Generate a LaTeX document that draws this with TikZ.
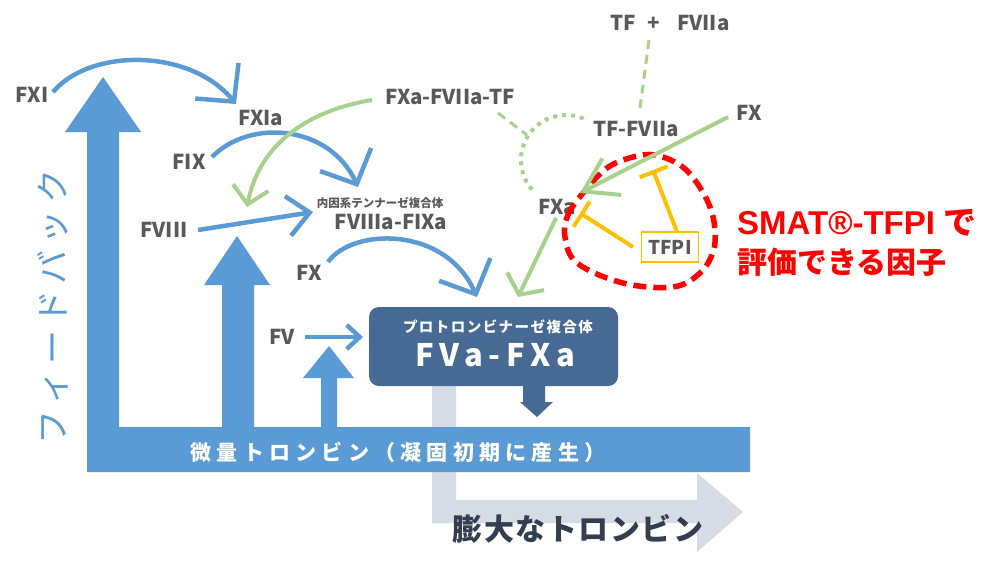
\documentclass[tikz,border=0pt]{standalone}
\usepackage{fontspec}
\setmainfont{Noto Sans CJK JP}
\newfontfamily\latinf{Liberation Sans}
\usetikzlibrary{arrows.meta}
\definecolor{fxblue}{HTML}{5B9BD5}
\definecolor{boxblue}{HTML}{466A93}
\definecolor{lgray}{HTML}{D6DCE5}
\definecolor{lblgray}{HTML}{595959}
\definecolor{fgreen}{HTML}{A9D18E}
\definecolor{tyellow}{HTML}{FFC000}
\definecolor{darktext}{HTML}{333F50}
\definecolor{redc}{HTML}{FF0000}
\tikzset{
  lbl/.style={inner sep=0pt, text=lblgray, font=\fontsize{20.5}{24}\selectfont\bfseries},
  blueln/.style={draw=fxblue, line width=4.5pt},
  greenln/.style={draw=fgreen, line width=4pt},
  bigtip/.style={-{Straight Barb[length=27pt,width=56pt]}},
  midtip/.style={-{Straight Barb[length=22pt,width=40pt]}},
  smalltip/.style={-{Straight Barb[length=13pt,width=24pt]}},
  inhib/.style={draw=tyellow, line width=4pt, -{Bar[width=30pt]}},
}
\begin{document}
\begin{tikzpicture}[x=1pt,y=-1pt]
\fill[white] (0,0) rectangle (1008,566);
\useasboundingbox (0,0) rectangle (1008,566);

% large thrombin (gray arrow, behind)
\fill[lgray] (432,386) -- (456,386) -- (456,500) -- (697,500) -- (697,473) -- (743,512) -- (697,552) -- (697,523) -- (432,523) -- cycle;
\node[inner sep=0pt, text=darktext, font=\fontsize{30}{34}\selectfont\bfseries\addfontfeatures{LetterSpace=5}] (big) at (578,529) {膨大なトロンビン};

% blue feedback L-arrow
\fill[fxblue] (87,472) -- (87,132) -- (65,132) -- (103,77) -- (141,132) -- (119,132) -- (119,427) -- (750,427) -- (750,472) -- cycle;
\fill[fxblue] (222,427) -- (222,285) -- (204,285) -- (237,236) -- (270,285) -- (254,285) -- (254,427) -- cycle;
\fill[fxblue] (321,427) -- (321,378) -- (303,378) -- (329,346) -- (354,378) -- (337,378) -- (337,427) -- cycle;
\node[inner sep=0pt, text=white, font=\fontsize{21}{24}\selectfont\bfseries\addfontfeatures{LetterSpace=25}] (micro) at (398,452) {微量トロンビン（凝固初期に産生）};
\node[rotate=90, inner sep=0pt, text=fxblue, font=\fontsize{34}{38}\selectfont\addfontfeatures{LetterSpace=18}] (fb) at (53,307) {フィードバック};

% prothrombinase box
\node[fill=boxblue, rounded corners=10pt, minimum width=249pt, minimum height=79pt, inner sep=0pt] (box) at (493.5,346.5) {};
\node[inner sep=0pt, text=white, font=\fontsize{14.5}{16}\selectfont\bfseries\addfontfeatures{LetterSpace=10}] (boxsub) at (498,327) {プロトロンビナーゼ複合体};
\node[inner sep=0pt, text=white, font=\fontsize{31}{34}\selectfont\bfseries\addfontfeatures{LetterSpace=19}] (boxmain) at (495,355) {FVa-FXa};
\fill[boxblue] (523,386) -- (545,386) -- (545,402) -- (553,402) -- (537,417) -- (520,402) -- (523,402) -- cycle;

% labels
\node[lbl] (fxi) at (32,95) {FXI};
\node[lbl] (fxia) at (261,118) {FXIa};
\node[lbl] (fix) at (189,162) {FIX};
\node[lbl] (fviii) at (164,230) {FVIII};
\node[lbl] (fxl) at (309,273) {FX};
\node[lbl] (fv) at (282,337) {FV};
\node[inner sep=0pt, text=lblgray, font=\fontsize{11.5}{13}\selectfont\bfseries] (tensub) at (380,203) {内因系テンナーゼ複合体};
\node[lbl] (ten) at (391,222) {FVIIIa-FIXa};
\node[lbl] (fxaviiatf) at (450,97) {FXa-FVIIa-TF};
\node[lbl] (tfplus) at (670,23) {TF\hspace{12pt}+\hspace{17pt}FVIIa};
\node[lbl] (tfviia) at (636,129) {TF-FVIIa};
\node[lbl] (fxr) at (749,113) {FX};
\node[lbl] (fxa) at (557,207) {FXa};
\node[draw=tyellow, line width=1.3pt, minimum width=57pt, minimum height=30pt, inner sep=0pt, text=lblgray, font=\fontsize{19}{22}\selectfont\bfseries] (tfpi) at (670,247) {TFPI};

% coordinates for connector ends
\coordinate (fxiS) at (53,92);
\coordinate (fxiaT) at (236,104);
\coordinate (fixS) at (212,157);
\coordinate (tenT) at (358,187);
\coordinate (fviiiS) at (198,230);
\coordinate (fviiiT) at (313,212);
\coordinate (fxlS) at (328,262);
\coordinate (boxT1) at (477,297);
\coordinate (fvS) at (305,337);
\coordinate (fvT) at (363,337);
\coordinate (gcS) at (372,100);
\coordinate (gcT) at (247,207);
\coordinate (fxrS) at (728,117);
\coordinate (fxaT) at (580,193);
\coordinate (fxaS) at (556,218);
\coordinate (boxT2) at (518,297);
\coordinate (tfS) at (649,40);
\coordinate (tfT) at (640,108);
\coordinate (exS) at (498,113);
\coordinate (exT) at (527,135);
\coordinate (t1S) at (677,232);
\coordinate (t1T) at (653,170);
\coordinate (t2S) at (633,247);
\coordinate (t2T) at (580,213);

% blue connectors
\draw[blueln, bigtip] (fxiS) .. controls (90,48) and (190,48) .. (fxiaT);
\draw[blueln, bigtip] (fixS) .. controls (250,118) and (330,125) .. (tenT);
\draw[blueln, midtip] (fviiiS) -- (fviiiT);
\draw[blueln, bigtip] (fxlS) .. controls (352,228) and (445,225) .. (boxT1);
\draw[blueln, smalltip] (fvS) -- (fvT);

% green connectors
\draw[greenln, -{Straight Barb[length=17pt,width=36pt]}] (gcS) .. controls (300,112) and (258,150) .. (gcT);
\draw[greenln, -{Straight Barb[length=15pt,width=41pt]}] (fxaS) -- (boxT2);
\draw[greenln, dash pattern=on 9pt off 6pt, line width=3pt] (tfS) -- (tfT);
\draw[greenln, dash pattern=on 9pt off 6pt, line width=3pt] (exS) -- (exT);
\draw[greenln, dash pattern=on 4pt off 5pt] ([shift={(-67:45)}]566,160) arc[start angle=-67, end angle=-221, radius=45];

% red loop
\draw[redc, line width=5.5pt, dash pattern=on 13pt off 7pt] plot[smooth cycle, tension=0.6] coordinates {(565,237) (568,215) (583,193) (607,168) (633,157) (655,155) (680,165) (697,183) (710,207) (715,230) (713,252) (700,273) (673,287) (623,283) (577,263)};
\draw[greenln, -{Straight Barb[length=32pt,width=41pt]}] (fxrS) -- (fxaT);

% TFPI inhibition
\draw[inhib] (t1S) -- (t1T);
\draw[inhib] (t2S) -- (t2T);

% red text
\node[anchor=west, inner sep=0pt, text=redc, font=\fontsize{33}{36}\selectfont\bfseries] (smat1) at (737,223) {{\latinf SMAT®-TFPI}\hspace{8pt}で};
\node[anchor=west, inner sep=0pt, text=redc, font=\fontsize{30}{34}\selectfont\bfseries] (smat2) at (737,262) {評価できる因子};
\end{tikzpicture}
\end{document}
